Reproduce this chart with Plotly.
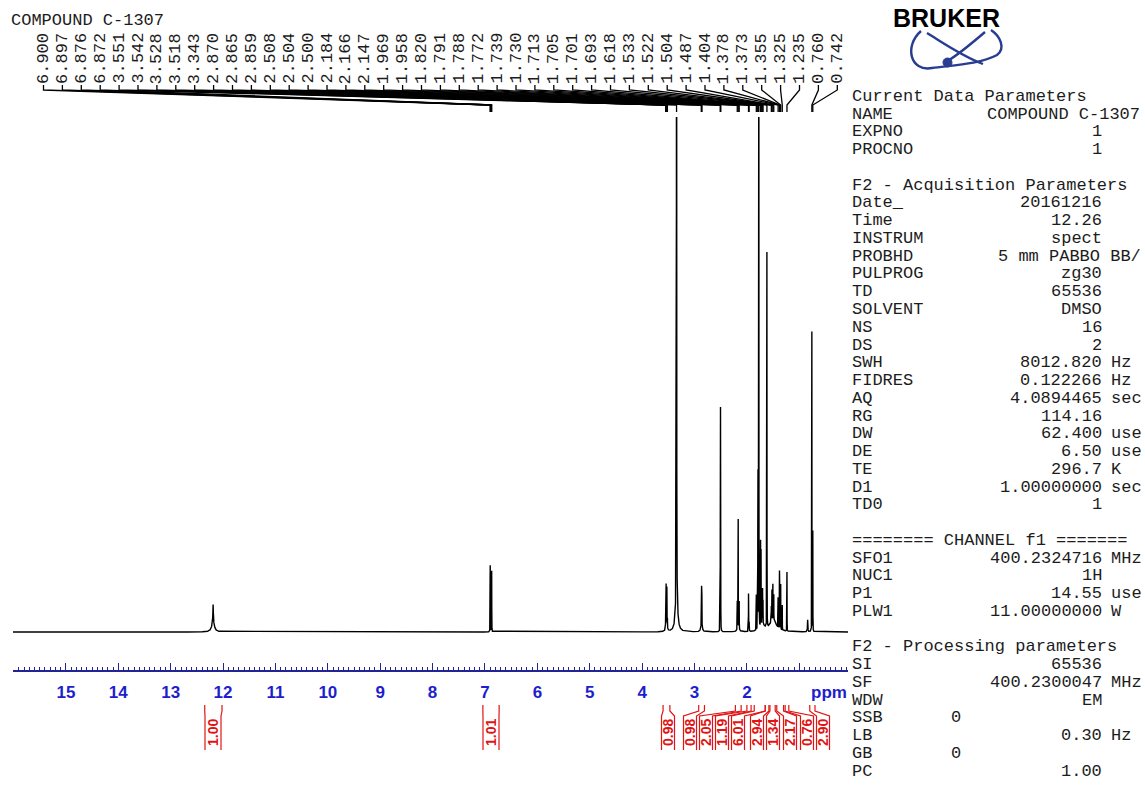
import numpy as np
import plotly.graph_objects as go

W, H = 1145, 785

# ---------------- spectrum: resolved lines (ppm, intensity, half-width) ----------------
line_ppm = [12.190, 6.900, 6.897, 6.876, 6.872, 3.551, 3.542, 3.528, 3.518, 3.343,
            2.870, 2.865, 2.859, 2.508, 2.504, 2.500, 2.184, 2.166, 2.147, 1.969,
            1.958, 1.820, 1.791, 1.788, 1.772, 1.739, 1.730, 1.713, 1.705, 1.701,
            1.693, 1.618, 1.533, 1.522, 1.504, 1.487, 1.404, 1.378, 1.373, 1.355,
            1.325, 1.235, 0.840, 0.760, 0.742]
line_int = [3.6, 11.7, 11.5, 11.0, 11.3, 5.5, 8.2, 7.6, 5.0, 200.0,
            5.5, 7.2, 5.8, 18.0, 42.0, 18.0, 5.5, 21.0, 5.5, 7.5,
            7.0, 7.0, 27.5, 27.5, 140.0, 17.0, 15.0, 5.5, 6.5, 6.5,
            5.5, 75.0, 5.0, 6.0, 7.0, 5.0, 6.0, 11.0, 11.0, 9.0,
            5.0, 11.8, 2.4, 60.0, 20.0]
line_hw = [0.005, 0.0012, 0.0012, 0.0012, 0.0012, 0.0012, 0.0012, 0.0012, 0.0012, 0.002,
           0.0012, 0.0012, 0.0012, 0.0012, 0.0012, 0.0012, 0.0012, 0.0012, 0.0012, 0.0012,
           0.0012, 0.0012, 0.0012, 0.0012, 0.0012, 0.0012, 0.0012, 0.0012, 0.0012, 0.0012,
           0.0012, 0.0012, 0.0012, 0.0012, 0.0012, 0.0012, 0.0012, 0.0012, 0.0012, 0.0012,
           0.0012, 0.0012, 0.004, 0.0012, 0.0012]

# broad underlying envelopes (exchangeable H, water, overlapping multiplets)
hump_ppm = [12.190, 3.343, 3.535, 2.865, 2.166, 1.700, 1.500]
hump_int = [1.9, 6.0, 1.5, 1.5, 1.5, 1.2, 2.5]
hump_hw = [0.03, 0.025, 0.015, 0.015, 0.015, 0.05, 0.07]

# picked peak labels
picked_ppm = [6.900, 6.897, 6.876, 6.872, 3.551, 3.542, 3.528, 3.518, 3.343, 2.870,
              2.865, 2.859, 2.508, 2.504, 2.500, 2.184, 2.166, 2.147, 1.969, 1.958,
              1.820, 1.791, 1.788, 1.772, 1.739, 1.730, 1.713, 1.705, 1.701, 1.693,
              1.618, 1.533, 1.522, 1.504, 1.487, 1.404, 1.378, 1.373, 1.355, 1.325,
              1.235, 0.760, 0.742]

# integrals
integral_value = [1.00, 1.01, 0.98, 0.98, 2.05, 1.19, 6.01, 2.94, 1.34, 2.17, 0.76, 2.90]
integral_from = [12.35, 7.04, 3.60, 2.92, 2.22, 2.00, 1.86, 1.65, 1.56, 1.43, 1.27, 0.80]
integral_to = [12.02, 6.73, 3.47, 2.81, 2.11, 1.92, 1.65, 1.58, 1.46, 1.30, 1.20, 0.70]

tick_values = list(range(1, 16))
tick_text = [""] + [str(v) for v in range(2, 16)]

# acquisition / processing parameter listing
param_rows = [
    ("Current Data Parameters", "", ""),
    ("NAME", "COMPOUND C-1307", ""),
    ("EXPNO", "1", ""),
    ("PROCNO", "1", ""),
    ("", "", ""),
    ("F2 - Acquisition Parameters", "", ""),
    ("Date_", "20161216", ""),
    ("Time", "12.26", ""),
    ("INSTRUM", "spect", ""),
    ("PROBHD", "5 mm PABBO BB/", ""),
    ("PULPROG", "zg30", ""),
    ("TD", "65536", ""),
    ("SOLVENT", "DMSO", ""),
    ("NS", "16", ""),
    ("DS", "2", ""),
    ("SWH", "8012.820", "Hz"),
    ("FIDRES", "0.122266", "Hz"),
    ("AQ", "4.0894465", "sec"),
    ("RG", "114.16", ""),
    ("DW", "62.400", "use"),
    ("DE", "6.50", "use"),
    ("TE", "296.7", "K"),
    ("D1", "1.00000000", "sec"),
    ("TD0", "1", ""),
    ("", "", ""),
    ("======== CHANNEL f1 =======", "", ""),
    ("SFO1", "400.2324716", "MHz"),
    ("NUC1", "1H", ""),
    ("P1", "14.55", "use"),
    ("PLW1", "11.00000000", "W"),
    ("", "", ""),
    ("F2 - Processing parameters", "", ""),
    ("SI", "65536", ""),
    ("SF", "400.2300047", "MHz"),
    ("WDW", "EM", ""),
    ("SSB", "0", ""),
    ("LB", "0.30", "Hz"),
    ("GB", "0", ""),
    ("PC", "1.00", ""),
]

# ---------------- layout geometry (pixels) ----------------
PX_L, PX_R = 13, 848          # horizontal extent of the spectrum
PY_TOP, PY_AXIS = 117, 670    # plot top, ruler line
X_RANGE = [16.01, 0.07]
Y_RANGE = [-7.6, 103.0]

MONO = "Liberation Mono"
SANS = "Liberation Sans"
INK = "#1c1c1c"
AXIS_BLUE = "rgb(35,35,150)"
LABEL_BLUE = "rgb(30,30,205)"
RED = "rgb(225,20,20)"


def ppm_from_px(px):
    return X_RANGE[0] + (px - PX_L) / (PX_R - PX_L) * (X_RANGE[1] - X_RANGE[0])


def yp(py):
    return 1 - py / H


def xp(px):
    return px / W


# ---------------- build the spectrum trace ----------------
grid = np.union1d(np.arange(X_RANGE[1], X_RANGE[0], 0.0005), np.array(line_ppm))
spec = np.zeros_like(grid)
for c, h, w in zip(line_ppm + hump_ppm, line_int + hump_int, line_hw + hump_hw):
    spec += h * w * w / ((grid - c) ** 2 + w * w)

fig = go.Figure()
fig.add_trace(go.Scatter(x=grid, y=spec, mode="lines",
                         line=dict(color="black", width=1.4),
                         hoverinfo="skip", showlegend=False))

shapes = []
annotations = []

# ---------------- peak pick labels and leader lines ----------------
for i, p in enumerate(picked_ppm):
    lx = ppm_from_px(43.5 + 18.9 * i)
    annotations.append(dict(
        x=lx, xref="x", y=yp(85), yref="paper", text=f"{p:.3f}",
        textangle=-90, xanchor="center", yanchor="bottom", showarrow=False,
        font=dict(family=MONO, size=17, color=INK), borderpad=0))
    path = (f"M {lx},{yp(85)} L {lx},{yp(90)} "
            f"L {p},{yp(105)} L {p},{yp(112)}")
    shapes.append(dict(type="path", path=path, xref="x", yref="paper",
                       line=dict(color="black", width=1.3)))

# ---------------- integral brackets ----------------
label_px = [213, 491, 668, 690, 706, 722, 738, 757, 773, 790, 807, 823]
for v, a, b, cx in zip(integral_value, integral_from, integral_to, label_px):
    half = 8 if cx < 600 else 6.5
    for edge, lim in ((cx - half, a), (cx + half, b)):
        ex = ppm_from_px(edge)
        path = (f"M {ex},{yp(750)} L {ex},{yp(716)} "
                f"L {lim},{yp(711)} L {lim},{yp(705)}")
        shapes.append(dict(type="path", path=path, xref="x", yref="paper",
                           line=dict(color=RED, width=1.2)))
    annotations.append(dict(
        x=ppm_from_px(cx), xref="x", y=yp(733), yref="paper", text=f"{v:.2f}",
        textangle=-90, xanchor="center", yanchor="middle", showarrow=False,
        font=dict(family=SANS, size=14, color=RED, weight="bold"), borderpad=0))

# ---------------- ppm unit label ----------------
annotations.append(dict(
    x=xp(849), xref="paper", y=yp(692), yref="paper", text="ppm",
    xanchor="right", yanchor="middle", showarrow=False,
    font=dict(family=SANS, size=17, color=LABEL_BLUE, weight="bold")))

# ---------------- sample title ----------------
annotations.append(dict(
    x=xp(9), xref="paper", y=yp(21), yref="paper", text="COMPOUND C-1307",
    xanchor="left", yanchor="middle", showarrow=False,
    font=dict(family=MONO, size=17, color=INK)))

# ---------------- parameter listing ----------------
value_right = {"NAME": 1141, "PROBHD": 1142}
value_left = {"SSB": 950, "GB": 950}
for i, (name, val, unit) in enumerate(param_rows):
    y = yp(96.5 + 17.75 * i)
    if name:
        annotations.append(dict(
            x=xp(851), xref="paper", y=y, yref="paper", text=name,
            xanchor="left", yanchor="middle", showarrow=False,
            font=dict(family=MONO, size=17, color=INK), borderpad=0))
    if val:
        if name in value_left:
            vx, anchor = value_left[name], "left"
        else:
            vx, anchor = value_right.get(name, 1103), "right"
        annotations.append(dict(
            x=xp(vx), xref="paper", y=y, yref="paper", text=val,
            xanchor=anchor, yanchor="middle", showarrow=False,
            font=dict(family=MONO, size=17, color=INK), borderpad=0))
    if unit:
        annotations.append(dict(
            x=xp(1110), xref="paper", y=y, yref="paper", text=unit,
            xanchor="left", yanchor="middle", showarrow=False,
            font=dict(family=MONO, size=17, color=INK), borderpad=0))

# ---------------- Bruker logo ----------------
annotations.append(dict(
    x=xp(946), xref="paper", y=yp(18), yref="paper", text="BRUKER",
    xanchor="center", yanchor="middle", showarrow=False,
    font=dict(family=SANS, size=25, color="black", weight="bold")))
LOGO = "rgb(40,60,145)"

loop = (f"M {xp(921)},{yp(31)} C {xp(904)},{yp(46)} {xp(910)},{yp(72)} {xp(932)},{yp(68)} "
        f"C {xp(955)},{yp(65)} {xp(980)},{yp(64)} {xp(997)},{yp(55)} "
        f"C {xp(1006)},{yp(48)} {xp(1000)},{yp(36)} {xp(991)},{yp(30)}")
cross1 = f"M {xp(927)},{yp(33)} C {xp(945)},{yp(44)} {xp(962)},{yp(56)} {xp(983)},{yp(64)}"
cross2 = f"M {xp(985)},{yp(32)} C {xp(971)},{yp(44)} {xp(958)},{yp(55)} {xp(946)},{yp(62)}"
for pth_str in (loop, cross1, cross2):
    shapes.append(dict(type="path", path=pth_str, xref="paper", yref="paper",
                       line=dict(color=LOGO, width=2.4)))
shapes.append(dict(type="circle", xref="paper", yref="paper",
                   x0=xp(943), x1=xp(952), y0=yp(67), y1=yp(58),
                   fillcolor=LOGO, line=dict(color=LOGO, width=1)))

fig.update_layout(
    width=W, height=H, autosize=False,
    margin=dict(l=0, r=0, t=0, b=0, pad=0),
    paper_bgcolor="white", plot_bgcolor="white",
    showlegend=False,
    shapes=shapes, annotations=annotations,
    xaxis=dict(
        domain=[xp(PX_L), xp(PX_R)], range=X_RANGE, autorange=False,
        showgrid=False, zeroline=False,
        showline=True, linecolor=AXIS_BLUE, linewidth=1.5,
        ticks="inside", ticklen=7, tickwidth=1, tickcolor=AXIS_BLUE,
        tickmode="array", tickvals=tick_values, ticktext=tick_text,
        ticklabelstandoff=6,
        tickfont=dict(family=SANS, size=17, color=LABEL_BLUE, weight="bold"),
        minor=dict(tickmode="linear", tick0=0, dtick=0.1, ticks="inside",
                   ticklen=3.5, tickwidth=1, tickcolor=AXIS_BLUE, showgrid=False),
    ),
    yaxis=dict(
        domain=[yp(PY_AXIS), yp(PY_TOP)], range=Y_RANGE, autorange=False,
        visible=False, showgrid=False, zeroline=False,
    ),
)

fig.write_html("out.html")
